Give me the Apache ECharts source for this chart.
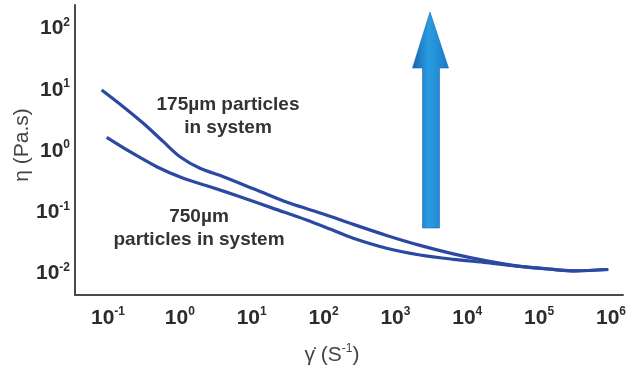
<!DOCTYPE html>
<html>
<head>
<meta charset="utf-8">
<script src="https://cdn.jsdelivr.net/npm/echarts@6/dist/echarts.min.js"></script>
<style>
html,body{margin:0;padding:0;background:#ffffff;}
#chart{width:640px;height:374px;}
</style>
</head>
<body>
<div id="chart"></div>
<script>
// ---- data ----
const shearRate175 = [0.0817, 0.163, 0.310, 0.589, 1.005, 1.905, 4.03, 11.7, 34.1, 99.1, 259.4, 755, 2198, 6383, 18620, 54080, 157400, 315500, 916200];
const viscosity175 = [9.89, 5.28, 2.83, 1.42, 0.807, 0.522, 0.381, 0.231, 0.140, 0.0940, 0.0636, 0.0420, 0.0289, 0.0210, 0.0161, 0.0131, 0.0117, 0.0111, 0.01167];
const shearRate750 = [0.0959, 0.202, 0.476, 1.117, 2.624, 6.87, 19.95, 58.2, 122.7, 259.4, 755, 2198, 6383, 18620, 54080, 157400, 315500, 916200];
const viscosity750 = [1.671, 0.975, 0.555, 0.359, 0.262, 0.180, 0.116, 0.0748, 0.0534, 0.0377, 0.0259, 0.0201, 0.0171, 0.0151, 0.0131, 0.0117, 0.0111, 0.01167];
const xTickExponents = [-1, 0, 1, 2, 3, 4, 5, 6];
const yTickExponents = [-2, -1, 0, 1, 2];
const seriesNames = ['175µm particles in system', '750µm particles in system'];
const annotation175 = ['175µm particles', 'in system'];
const annotation750 = ['750µm', 'particles in system'];
const yAxisTitle = 'η (Pa.s)';

const FONT = '"Liberation Sans", Arial, Helvetica, sans-serif';
const LINE_COLOR = '#2c49a2';
const TEXT_COLOR = '#2b2b2b';

function powLabel(allowed) {
  return function (v) {
    const e = Math.log10(v);
    const r = Math.round(e);
    if (Math.abs(e - r) > 1e-6 || allowed.indexOf(r) < 0) return '';
    return '{b|10}{s|' + r + '}';
  };
}
const labelRich = {
  b: { fontFamily: FONT, fontSize: 21, fontWeight: 'bold', color: TEXT_COLOR, lineHeight: 24 },
  s: { fontFamily: FONT, fontSize: 12, fontWeight: 'bold', color: TEXT_COLOR, lineHeight: 14, verticalAlign: 'top' }
};

const chart = echarts.init(document.getElementById('chart'), null, { renderer: 'canvas' });
chart.setOption({
  animation: false,
  backgroundColor: '#ffffff',
  grid: { left: 75, right: 17, top: 5, bottom: 79, containLabel: false, outerBoundsMode: 'none' },
  xAxis: {
    type: 'log',
    logBase: 10,
    min: 0.03475,
    max: 1469000,
    axisLine: { show: true, lineStyle: { color: '#4a4a4a', width: 2 } },
    axisTick: { show: false },
    splitLine: { show: false },
    axisLabel: { margin: 11, formatter: powLabel(xTickExponents), rich: labelRich },
    name: '{g|γ̇} (S{s|-1})',
    nameLocation: 'middle',
    nameGap: 48,
    nameMoveOverlap: false,
    nameTextStyle: {
      padding: [0, 34, 0, 0],
      rich: {
        g: { fontFamily: FONT, fontSize: 21, color: '#444', lineHeight: 24 },
        s: { fontFamily: FONT, fontSize: 12, color: '#444', lineHeight: 14, verticalAlign: 'top' }
      },
      fontFamily: FONT, fontSize: 21, color: '#444', lineHeight: 24
    }
  },
  yAxis: {
    type: 'log',
    logBase: 10,
    min: 0.00448,
    max: 241,
    axisLine: { show: true, lineStyle: { color: '#4a4a4a', width: 2 } },
    axisTick: { show: false },
    splitLine: { show: false },
    axisLabel: { margin: 5, formatter: powLabel(yTickExponents), rich: labelRich },
    name: yAxisTitle,
    nameLocation: 'middle',
    nameRotate: 90,
    nameGap: 42,
    nameMoveOverlap: false,
    nameTextStyle: { fontFamily: FONT, fontSize: 21, color: '#444', padding: [0, 0, 0, 10] }
  },
  series: [
    {
      name: seriesNames[0],
      type: 'line',
      data: shearRate175.map((x, i) => [x, viscosity175[i]]),
      showSymbol: false,
      smooth: 0.3,
      lineStyle: { color: LINE_COLOR, width: 3.2 },
      z: 3
    },
    {
      name: seriesNames[1],
      type: 'line',
      data: shearRate750.map((x, i) => [x, viscosity750[i]]),
      showSymbol: false,
      smooth: 0.3,
      lineStyle: { color: LINE_COLOR, width: 3.2 },
      z: 3
    }
  ],
  graphic: [
    {
      type: 'polygon',
      z: 10,
      shape: { points: [[430, 12], [448.5, 68], [439.5, 68], [439.5, 228], [422.5, 228], [422.5, 68], [412.5, 68]] },
      style: {
        fill: new echarts.graphic.LinearGradient(0, 0, 1, 0, [
          { offset: 0, color: '#1762b0' },
          { offset: 0.45, color: '#2a9de0' },
          { offset: 1, color: '#1b79c9' }
        ]),
        stroke: '#1a6ab8',
        lineWidth: 0.6
      }
    },
    {
      type: 'text', z: 10,
      style: {
        text: annotation175.join('\n'), x: 228, y: 116.5,
        align: 'center', verticalAlign: 'middle', lineHeight: 23,
        font: 'bold 19px ' + FONT, fill: '#333333'
      }
    },
    {
      type: 'text', z: 10,
      style: {
        text: annotation750.join('\n'), x: 199, y: 228.5,
        align: 'center', verticalAlign: 'middle', lineHeight: 23,
        font: 'bold 19px ' + FONT, fill: '#333333'
      }
    }
  ]
});
</script>
</body>
</html>
